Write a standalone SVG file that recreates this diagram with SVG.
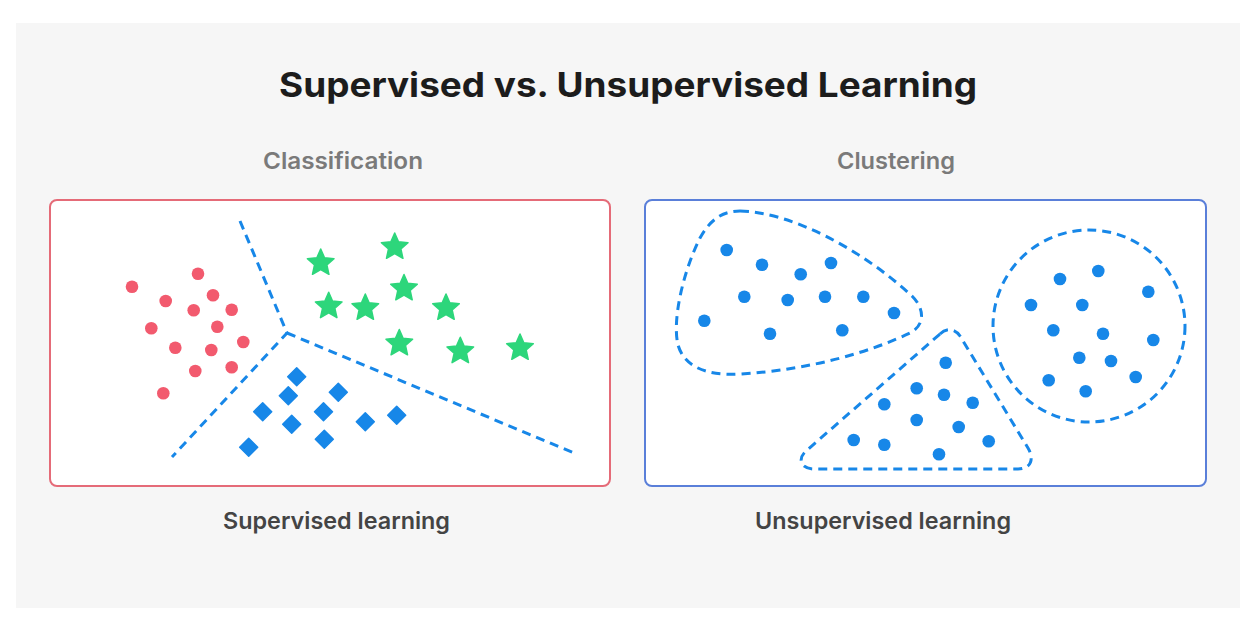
<svg xmlns="http://www.w3.org/2000/svg" width="1253" height="617" viewBox="0 0 1253 617">
<defs>
<style>
.t{font-family:Inter,"Noto Sans","Liberation Sans",sans-serif}
.title{font-size:34px;font-weight:700;fill:#1c1c1c}
.sub{font-size:23px;font-weight:600;fill:#7a7a7a}
.lab{font-size:23px;font-weight:600;fill:#444}
.dash{fill:none;stroke:#1787e8;stroke-width:3;stroke-dasharray:9 6;stroke-linejoin:round}
.rd{fill:#f25a6e}
.bd{fill:#1787e8}
.st{fill:#2dd67b;stroke:#2dd67b;stroke-width:1.5;stroke-linejoin:round}
.dm{fill:#1787e8;stroke:#1787e8;stroke-width:1.5;stroke-linejoin:round}
</style>
<path id="star" d="M0,-14 L3.82,-5.26 L13.31,-4.33 L6.18,2.01 L8.23,11.33 L0,6.5 L-8.23,11.33 L-6.18,2.01 L-13.31,-4.33 L-3.82,-5.26 Z"/>
<path id="dia" d="M0,-9 L9,0 L0,9 L-9,0 Z"/>
<circle id="dot" r="6.3"/>
</defs>
<rect x="0" y="0" width="1253" height="617" fill="#ffffff"/>
<rect x="16" y="23" width="1224" height="585" fill="#f6f6f6"/>
<text class="t title" x="628" y="97" text-anchor="middle" textLength="698" lengthAdjust="spacingAndGlyphs">Supervised vs. Unsupervised Learning</text>

<g id="classification">
<text class="t sub" x="343" y="169" text-anchor="middle" textLength="160" lengthAdjust="spacingAndGlyphs">Classification</text>
<rect x="50" y="200" width="560" height="286" rx="7" fill="#ffffff" stroke="#e56b78" stroke-width="2"/>
<g id="boundaries">
<path class="dash" d="M240,221 L287,333 L172,457"/>
<path class="dash" d="M287,333 L574,453"/>
</g>
<g id="red-dots" class="rd">
<use href="#dot" x="132" y="286.7"/><use href="#dot" x="198" y="273.7"/><use href="#dot" x="165.7" y="301"/>
<use href="#dot" x="213" y="295.3"/><use href="#dot" x="193.7" y="310.3"/><use href="#dot" x="231.7" y="309.7"/>
<use href="#dot" x="151.3" y="328.3"/><use href="#dot" x="217.3" y="326.7"/><use href="#dot" x="175.3" y="347.7"/>
<use href="#dot" x="211.3" y="350"/><use href="#dot" x="243.3" y="342"/><use href="#dot" x="195.3" y="371"/>
<use href="#dot" x="231.7" y="367.3"/><use href="#dot" x="163.3" y="393.3"/>
</g>
<g id="stars" class="st">
<use href="#star" x="394.7" y="247"/><use href="#star" x="320.7" y="263"/><use href="#star" x="404" y="288.5"/>
<use href="#star" x="328.7" y="306.3"/><use href="#star" x="365.3" y="308"/><use href="#star" x="446" y="308"/>
<use href="#star" x="399.3" y="343.5"/><use href="#star" x="460.3" y="351.3"/><use href="#star" x="520" y="348"/>
</g>
<g id="diamonds" class="dm">
<use href="#dia" x="296.7" y="376.7"/><use href="#dia" x="288.3" y="395.7"/><use href="#dia" x="338.3" y="392.3"/>
<use href="#dia" x="262.7" y="411.7"/><use href="#dia" x="323.5" y="411.7"/><use href="#dia" x="291.7" y="424.3"/>
<use href="#dia" x="365.3" y="421.7"/><use href="#dia" x="396.7" y="415.3"/><use href="#dia" x="324.3" y="439.2"/>
<use href="#dia" x="248.7" y="447.3"/>
</g>
<text class="t lab" x="336.5" y="529" text-anchor="middle" textLength="227" lengthAdjust="spacingAndGlyphs">Supervised learning</text>
</g>

<g id="clustering">
<text class="t sub" x="896" y="169" text-anchor="middle" textLength="118" lengthAdjust="spacingAndGlyphs">Clustering</text>
<rect x="645" y="200" width="561" height="286" rx="7" fill="#ffffff" stroke="#5a7fd9" stroke-width="2"/>
<g id="cluster-outlines">
<path class="dash" d="M740,211 C790,212 860,248 912,296 C926,310 924,326 910,333 C870,352 810,370 740,374 C705,376 684,366 678,345 C672,320 683,272 700,238 C710,220 722,211 740,211 Z"/>
<path class="dash" d="M940,334 C946,328 955,328 960,336 L1028,448 C1035,460 1030,469 1018,469 L814,469 C801,469 797,459 806,451 Z"/>
<circle class="dash" cx="1089" cy="326" r="96"/>
</g>
<g id="cluster-a" class="bd">
<use href="#dot" x="726.7" y="250"/><use href="#dot" x="762" y="264.7"/><use href="#dot" x="800.7" y="274.3"/>
<use href="#dot" x="831" y="263"/><use href="#dot" x="744.3" y="296.7"/><use href="#dot" x="787.7" y="300"/>
<use href="#dot" x="825" y="296.7"/><use href="#dot" x="863.3" y="296.7"/><use href="#dot" x="894" y="313"/>
<use href="#dot" x="704.3" y="320.7"/><use href="#dot" x="770" y="333.7"/><use href="#dot" x="842.3" y="330.3"/>
</g>
<g id="cluster-b" class="bd">
<use href="#dot" x="945.7" y="362.7"/><use href="#dot" x="916.7" y="388.3"/><use href="#dot" x="944" y="394.7"/>
<use href="#dot" x="972.7" y="402.7"/><use href="#dot" x="884.3" y="404.3"/><use href="#dot" x="916.7" y="420"/>
<use href="#dot" x="958.7" y="427"/><use href="#dot" x="853.7" y="440"/><use href="#dot" x="884.3" y="444.7"/>
<use href="#dot" x="988.7" y="441.3"/><use href="#dot" x="939" y="454.3"/>
</g>
<g id="cluster-c" class="bd">
<use href="#dot" x="1060" y="279"/><use href="#dot" x="1098.3" y="271"/><use href="#dot" x="1148.3" y="291.7"/>
<use href="#dot" x="1031" y="305"/><use href="#dot" x="1082.3" y="305"/><use href="#dot" x="1053.3" y="330.3"/>
<use href="#dot" x="1103" y="333.7"/><use href="#dot" x="1153.3" y="340"/><use href="#dot" x="1079.3" y="357.7"/>
<use href="#dot" x="1111" y="361"/><use href="#dot" x="1048.7" y="380.3"/><use href="#dot" x="1085.7" y="391.3"/>
<use href="#dot" x="1135.7" y="377"/>
</g>
<text class="t lab" x="883" y="529" text-anchor="middle" textLength="256" lengthAdjust="spacingAndGlyphs">Unsupervised learning</text>
</g>
</svg>
